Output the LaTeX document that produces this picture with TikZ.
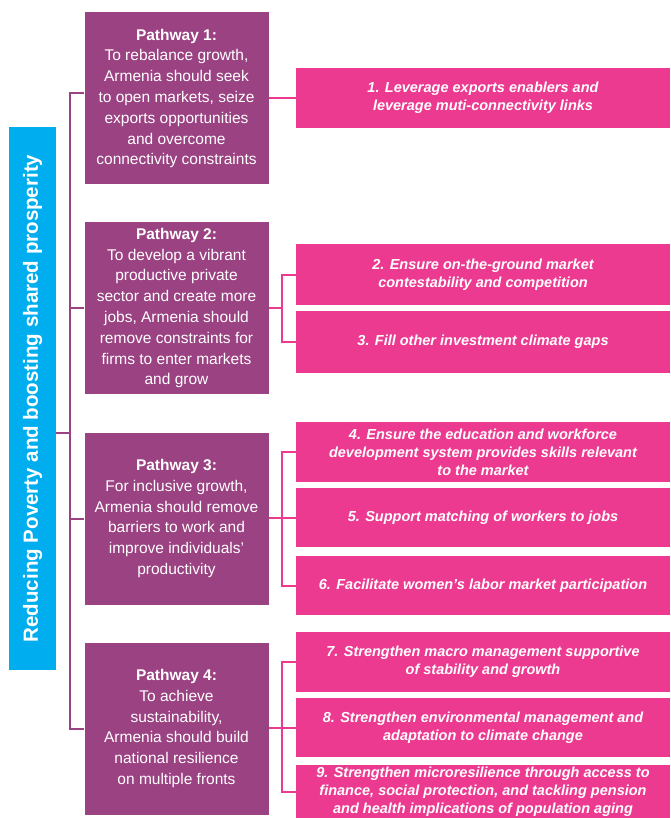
\documentclass[tikz,border=0pt]{standalone}
\usepackage{fontspec}
\setmainfont{Liberation Sans}
\definecolor{pathpurple}{HTML}{9B4282}
\definecolor{actionpink}{HTML}{EC3A91}
\definecolor{goalblue}{HTML}{00AEEF}

\begin{document}
\begin{tikzpicture}[x=1pt,y=-1pt,
	goal/.style={fill=goalblue,text=white,rotate=90,minimum width=543pt,minimum height=47pt,inner sep=0pt,font=\fontsize{20.5}{24}\selectfont\bfseries},
	pathway/.style={fill=pathpurple,text=white,minimum width=184pt,minimum height=172pt,align=center,inner sep=0pt,font=\fontsize{15.5}{20.8}\selectfont},
	action/.style={fill=actionpink,text=white,minimum width=374pt,align=center,inner sep=0pt,font=\fontsize{14.5}{18}\selectfont\bfseries\itshape},
	purple link/.style={draw=pathpurple,line width=2pt},
	pink link/.style={draw=actionpink,line width=2pt}]
	\useasboundingbox (0,0) rectangle (670,818);
	\node [goal] (goal) at (32.5,398.5) {Reducing Poverty and boosting shared prosperity};
	\foreach \y/\t [count=\i] in {98.5/{To rebalance growth,\\Armenia should seek\\to open markets, seize\\exports opportunities\\and overcome\\connectivity constraints},
			308/{To develop a vibrant\\productive private\\sector and create more\\jobs, Armenia should\\remove constraints for\\firms to enter markets\\and grow},
			518.5/{For inclusive growth,\\Armenia should remove\\barriers to work and\\improve individuals'\\productivity},
			728.5/{To achieve\\sustainability,\\Armenia should build\\national resilience\\on multiple fronts}}
		\node [pathway] (pathway-\i) at (176.5,\y) {{\bfseries Pathway \i:}\\\t};
	\foreach \y/\h/\t [count=\i] in {98/60/{1. Leverage exports enablers and\\leverage muti-connectivity links},
			274.5/61/{2. Ensure on-the-ground market\\contestability and competition},
			342/62/{3. Fill other investment climate gaps},
			452/60/{4. Ensure the education and workforce\\development system provides skills relevant\\to the market},
			517.5/59/{5. Support matching of workers to jobs},
			585.5/59/{6. Facilitate women's labor market participation},
			662/60/{7. Strengthen macro management supportive\\of stability and growth},
			727.5/59/{8. Strengthen environmental management and\\adaptation to climate change},
			792/54/{9. Strengthen microresilience through access to\\finance, social protection, and tackling pension\\and health implications of population aging}}
		\node [action,minimum height=\h pt] (action-\i) at (483,\y) {\t};
	% pathways hang off the goal bar
	\coordinate (spine) at (70,433);
	\draw [purple link] (goal.south |- spine) -- (spine);
	\draw [purple link] (spine) |- ([yshift=5.5pt]pathway-1.west);
	\foreach \i in {2,...,4}
		\draw [purple link] (spine) |- (pathway-\i.west);
	% actions per pathway
	\draw [pink link] (pathway-1.east) -- (pathway-1.east -| action-1.west);
	\foreach \p/\y/\a/\b in {2/308/2/3,3/518/4/6,4/728/7/9} {
		\coordinate (fork-\p) at (282,\y);
		\draw [pink link] (pathway-\p.east |- fork-\p) -- (fork-\p);
		\foreach \j in {\a,...,\b}
			\draw [pink link] (fork-\p) |- (action-\j.west);
	}
\end{tikzpicture}
\end{document}
